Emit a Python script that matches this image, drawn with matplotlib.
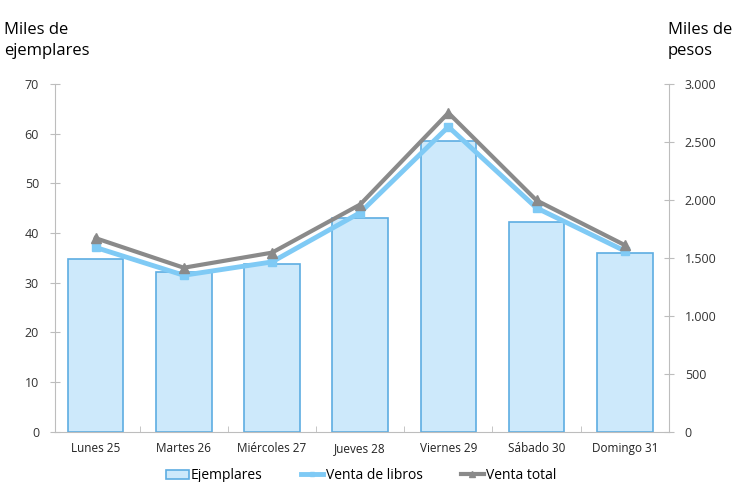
import matplotlib.pyplot as plt
import numpy as np

dias = ["Lunes 25", "Martes 26", "Miércoles 27", "Jueves 28", "Viernes 29", "Sábado 30", "Domingo 31"]
ejemplares = [34.8, 32.2, 33.8, 43.1, 58.5, 42.3, 36.0]
venta_libros = [1590, 1350, 1465, 1890, 2630, 1930, 1560]
venta_total = [1670, 1415, 1545, 1960, 2750, 1995, 1610]

plt.rcParams['font.family'] = ['Open Sans', 'DejaVu Sans']
grey = "#bdbdbd"

fig = plt.figure(figsize=(7.37, 4.82), dpi=100)
ax = fig.add_axes([0.0746, 0.104, 0.833, 0.722])
x = np.arange(len(dias))

ax.bar(x, ejemplares, width=0.63, color="#cde9fb", edgecolor="#5dade2", linewidth=1.2,
       label="Ejemplares", zorder=2)
ax.set_ylim(0, 70)
ax.set_yticks(range(0, 71, 10))
ax.set_xlim(-0.46, 6.5)
ax.set_xticks(x)
ax.set_xticklabels(dias)
ax.set_xticks(np.arange(-0.5, 6.6, 1.0)[1:], minor=True)

ax2 = ax.twinx()
ax2.plot(x, venta_libros, color="#7fcaf5", lw=3.5, marker="s", ms=6,
         label="Venta de libros", zorder=3)
ax2.plot(x, venta_total, color="#8a8a8a", lw=3, marker="^", ms=7,
         label="Venta total", zorder=4)
ax2.set_ylim(0, 3000)
ax2.set_yticks(range(0, 3001, 500))
ax2.set_yticklabels(["0", "500", "1.000", "1.500", "2.000", "2.500", "3.000"])

for a in (ax, ax2):
    for s in a.spines.values():
        s.set_visible(False)
ax.spines['left'].set_visible(True)
ax.spines['left'].set_color(grey)
ax.spines['bottom'].set_visible(True)
ax.spines['bottom'].set_color(grey)
ax2.spines['right'].set_visible(True)
ax2.spines['right'].set_color(grey)

ax.tick_params(axis='y', direction='inout', length=7, color=grey, labelsize=9, labelcolor="#333333", pad=8)
ax.tick_params(axis='x', which='major', length=0, labelsize=8.5, labelcolor="#222222", pad=7)
ax.tick_params(axis='x', which='minor', direction='in', length=4, color=grey)
ax2.tick_params(axis='y', direction='inout', length=7, color=grey, labelsize=9, labelcolor="#333333", pad=8)

fig.text(0.005, 0.877, "Miles de\nejemplares", fontsize=12, ha="left", va="bottom", linespacing=1.45)
fig.text(0.906, 0.877, "Miles de\npesos", fontsize=12, ha="left", va="bottom", linespacing=1.45)

h1, l1 = ax.get_legend_handles_labels()
h2, l2 = ax2.get_legend_handles_labels()
fig.legend(h1 + h2, l1 + l2, loc="center", bbox_to_anchor=(0.49, 0.013), ncol=3,
           frameon=False, fontsize=10, handlelength=1.6, columnspacing=2.8, handletextpad=0.15,
           markerscale=0.6)

fig.savefig("out.png")
